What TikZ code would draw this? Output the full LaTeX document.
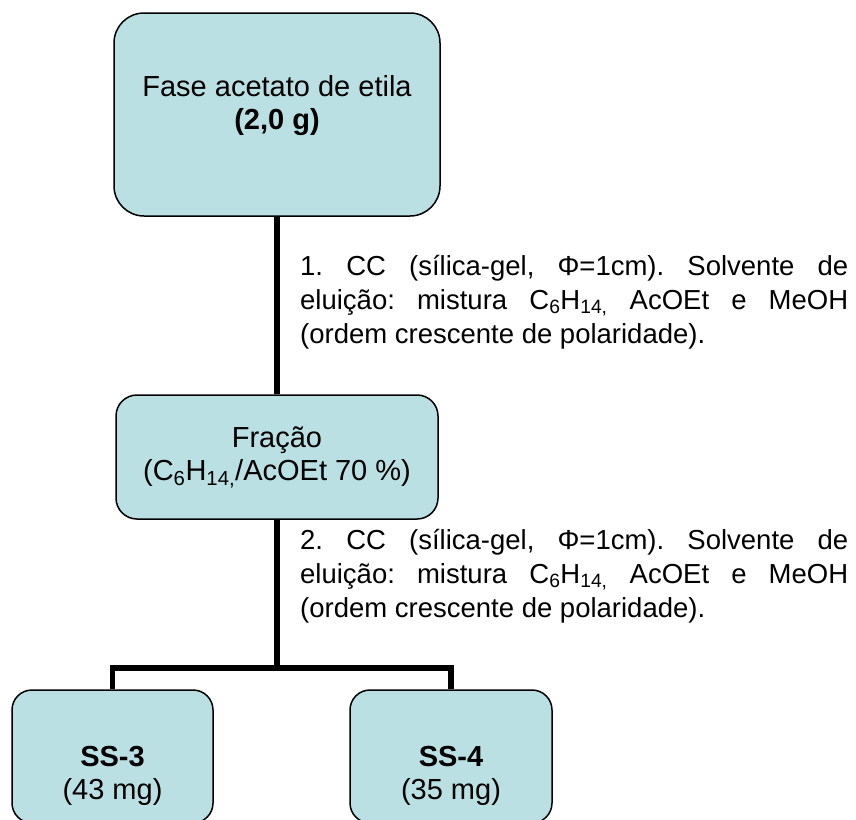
\documentclass[tikz,border=0pt]{standalone}
\usepackage{fontspec}
\setmainfont{Liberation Sans}
\definecolor{boxfill}{HTML}{BAE0E3}
\newcommand\twolines[2]{\begin{tabular}[t]{@{}c@{}}#1\\#2\end{tabular}}
\begin{document}
\frenchspacing
\begin{tikzpicture}[x=1pt,y=-1pt,
  box/.style={draw=black, line width=1.5pt, fill=boxfill, inner sep=0pt, rectangle},
  conn/.style={line width=5.5pt, line join=miter},
  lbl/.style={inner sep=0pt, anchor=base, font=\fontsize{29}{33}\selectfont},
  para/.style={inner sep=0pt, anchor=base west, font=\fontsize{27.5}{34}\selectfont}]
\useasboundingbox (0,0) rectangle (856,819);
\begin{scope}
\clip (0,0) rectangle (856,819);
\node[box, rounded corners=30pt, minimum width=326pt, minimum height=203pt] (top) at (277,114.5) {};
\node[box, rounded corners=21pt, minimum width=322pt, minimum height=124pt] (frac) at (277,457) {};
\node[box, rounded corners=20pt, minimum width=201pt, minimum height=133pt] (ss3) at (112.5,756.5) {};
\node[box, rounded corners=20pt, minimum width=202pt, minimum height=133pt] (ss4) at (451,756.5) {};
\end{scope}
\coordinate (j) at (277,668);
\draw[conn] (top.south) -- (frac.north);
\draw[conn] (frac.south) -- (j);
\draw[conn] (ss3.north) |- (j) -| (ss4.north);

\node[lbl] (toptxt) at (277,96) {\twolines{Fase acetato de etila}{\textbf{(2,0 g)}}};
\node[lbl] (fractxt) at (277,447) {\twolines{Fração}{(C\textsubscript{6}H\textsubscript{14,}/AcOEt 70 \%)}};
\node[lbl] (ss3txt) at (112.5,766) {\twolines{\textbf{SS-3}}{(43 mg)}};
\node[lbl] (ss4txt) at (451,766) {\twolines{\textbf{SS-4}}{(35 mg)}};

\node[para] (p1) at (300,275) {\parbox[t]{548pt}{1. CC (sílica-gel, Φ=1cm). Solvente de\linebreak eluição: mistura C\textsubscript{6}H\textsubscript{14,} AcOEt e MeOH\linebreak (ordem crescente de polaridade).}};
\node[para] (p2) at (300,549) {\parbox[t]{548pt}{2. CC (sílica-gel, Φ=1cm). Solvente de\linebreak eluição: mistura C\textsubscript{6}H\textsubscript{14,} AcOEt e MeOH\linebreak (ordem crescente de polaridade).}};
\end{tikzpicture}
\end{document}
